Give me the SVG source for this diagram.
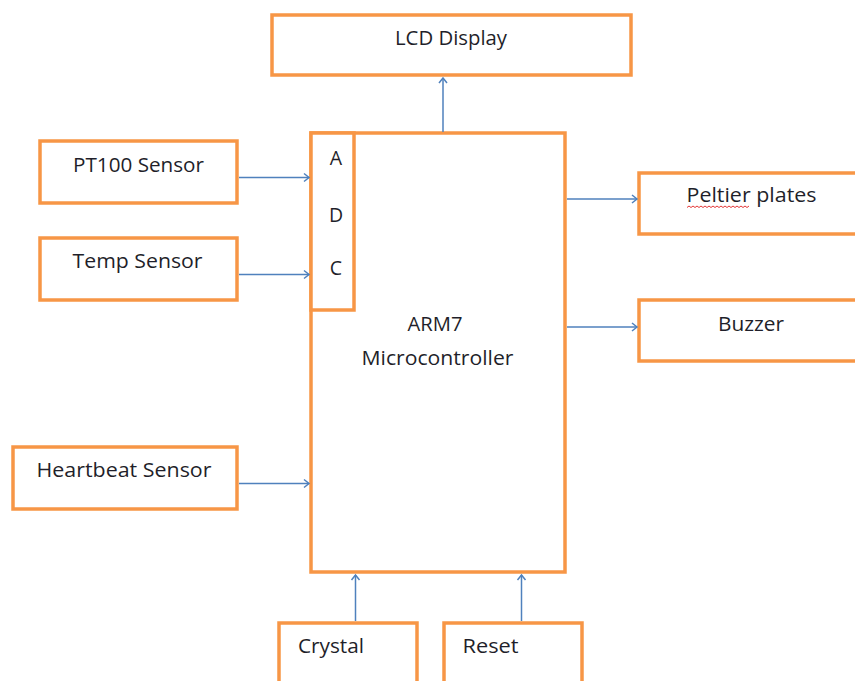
<svg xmlns="http://www.w3.org/2000/svg" width="855" height="681" viewBox="0 0 855 681">
<defs>
<style>
.box{fill:#fff;stroke:#F79646;stroke-width:3.5}
.lbl{font-family:"Open Sans","Liberation Sans",sans-serif;font-size:19.5px;fill:#1f1f2a;text-anchor:middle}
.con{stroke:#4F81BD;stroke-width:1.5;fill:none}
</style>
<marker id="arr" markerUnits="userSpaceOnUse" markerWidth="12" markerHeight="12" viewBox="-7 -6 9 12" refX="0" refY="0" orient="auto">
<path d="M-5,-4 L0,0 L-5,4" fill="none" stroke="#4F81BD" stroke-width="1.5"/>
</marker>
</defs>
<rect width="855" height="681" fill="#fff"/>
<g id="lcd"><rect class="box" x="272" y="15" width="359" height="60"/><text class="lbl" x="451" y="45" textLength="112" lengthAdjust="spacingAndGlyphs">LCD Display</text></g>
<g id="mcu"><rect class="box" x="311" y="133" width="254" height="439"/><text class="lbl" x="435" y="331" textLength="55" lengthAdjust="spacingAndGlyphs">ARM7</text><text class="lbl" x="437.5" y="365" textLength="152" lengthAdjust="spacingAndGlyphs">Microcontroller</text></g>
<g id="adc"><rect class="box" x="311" y="133" width="43" height="177"/><text class="lbl" x="336" y="165">A</text><text class="lbl" x="336" y="222">D</text><text class="lbl" x="336" y="275">C</text></g>
<g id="pt100"><rect class="box" x="40" y="141" width="197" height="62"/><text class="lbl" x="138.5" y="171.5" textLength="131" lengthAdjust="spacingAndGlyphs">PT100 Sensor</text></g>
<g id="temp"><rect class="box" x="40" y="238" width="197" height="62"/><text class="lbl" x="137.5" y="268" textLength="130" lengthAdjust="spacingAndGlyphs">Temp Sensor</text></g>
<g id="heartbeat"><rect class="box" x="13" y="447" width="224" height="62"/><text class="lbl" x="124" y="477" textLength="175" lengthAdjust="spacingAndGlyphs">Heartbeat Sensor</text></g>
<g id="peltier"><rect class="box" x="639" y="173" width="230" height="61"/><text class="lbl" x="751.5" y="202" textLength="130" lengthAdjust="spacingAndGlyphs">Peltier plates</text><path d="M687,207.5 l2,-1.5 l2,1.5 l2,-1.5 l2,1.5 l2,-1.5 l2,1.5 l2,-1.5 l2,1.5 l2,-1.5 l2,1.5 l2,-1.5 l2,1.5 l2,-1.5 l2,1.5 l2,-1.5 l2,1.5 l2,-1.5 l2,1.5 l2,-1.5 l2,1.5 l2,-1.5 l2,1.5 l2,-1.5 l2,1.5 l2,-1.5 l2,1.5 l2,-1.5 l2,1.5 l2,-1.5 l2,1.5 l2,-1.5" fill="none" stroke="#e02020" stroke-width="0.9"/></g>
<g id="buzzer"><rect class="box" x="639" y="300" width="230" height="61"/><text class="lbl" x="751" y="331" textLength="66" lengthAdjust="spacingAndGlyphs">Buzzer</text></g>
<g id="crystal"><rect class="box" x="279" y="623" width="138" height="80"/><text class="lbl" x="331" y="653" textLength="66" lengthAdjust="spacingAndGlyphs">Crystal</text></g>
<g id="reset"><rect class="box" x="444" y="623" width="138" height="80"/><text class="lbl" x="490.5" y="653" textLength="56" lengthAdjust="spacingAndGlyphs">Reset</text></g>
<g id="connectors">
<path class="con" d="M443,132 L443,78" marker-end="url(#arr)"/>
<path class="con" d="M239,177.5 L309,177.5" marker-end="url(#arr)"/>
<path class="con" d="M239,274.5 L309,274.5" marker-end="url(#arr)"/>
<path class="con" d="M239,483.5 L309,483.5" marker-end="url(#arr)"/>
<path class="con" d="M567,199 L637,199" marker-end="url(#arr)"/>
<path class="con" d="M567,327 L637,327" marker-end="url(#arr)"/>
<path class="con" d="M355.5,621 L355.5,575" marker-end="url(#arr)"/>
<path class="con" d="M521.5,621 L521.5,575" marker-end="url(#arr)"/>
</g>
</svg>
